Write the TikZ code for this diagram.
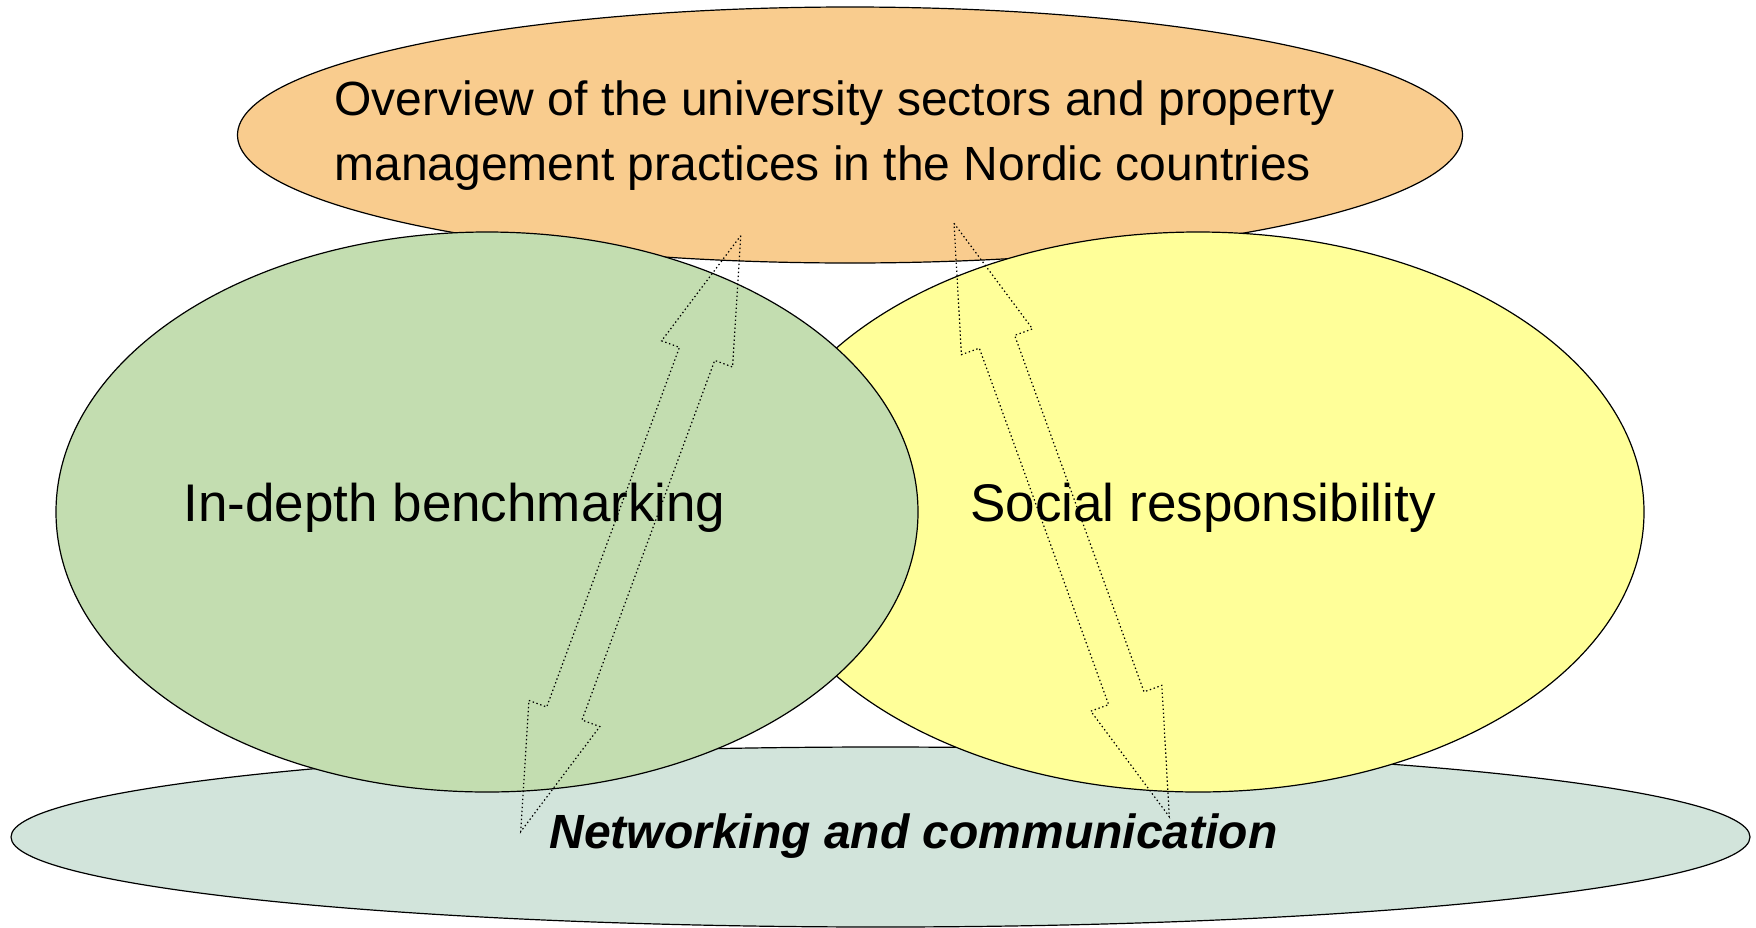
\documentclass[tikz,border=0pt]{standalone}
\usepackage{fontspec}
\setmainfont{Liberation Sans}
\usetikzlibrary{shapes.geometric}
\definecolor{orangefill}{HTML}{F9CC8E}
\definecolor{greenfill}{HTML}{C3DDB0}
\definecolor{yellowfill}{HTML}{FFFF99}
\definecolor{tealfill}{HTML}{D2E4DB}
\tikzset{
  blob/.style={ellipse, draw=black, line width=0.6pt, inner sep=0pt},
  dotarrow/.style={draw=black, line width=0.6pt, dash pattern=on 0.7pt off 1.3pt, line join=miter},
  bigtext/.style={inner sep=0pt, font=\fontsize{26.5}{32}\selectfont},
  toptext/.style={inner sep=0pt, font=\fontsize{24}{29}\selectfont},
  bottext/.style={inner sep=0pt, font=\fontsize{24}{29}\selectfont\bfseries\itshape}
}
\begin{document}
\begin{tikzpicture}[x=0.5pt, y=-0.5pt]
\useasboundingbox (0,0) rectangle (1756,927);
\node[blob, fill=orangefill, minimum width=612.5pt, minimum height=128pt] (overview) at (850,135) {};
\node[blob, fill=tealfill, minimum width=869.5pt, minimum height=90pt] (network) at (880.5,837) {};
\node[blob, fill=yellowfill, minimum width=446pt, minimum height=280pt] (social) at (1198,512) {};
\node[blob, fill=greenfill, minimum width=431pt, minimum height=280pt] (bench) at (487,512) {};
% texts
\node[toptext, anchor=base west] (ovt1) at (334,115) {Overview of the university sectors and property};
\node[toptext, anchor=base west] (ovt2) at (334,180) {management practices in the Nordic countries};
\node[bigtext, anchor=base west] (bt) at (183,521) {In-depth benchmarking};
\node[bigtext, anchor=base west] (st) at (970,521) {Social responsibility};
\node[bottext, anchor=base west] (nt) at (549,848) {Networking and communication};
% double block arrows
\coordinate (la) at (740.7,235.7);
\coordinate (lb) at (520.7,831.7);
\coordinate (ra) at (954,223.3);
\coordinate (rb) at (1169.3,816.7);
\draw[dotarrow] (la) -- (732.53,366.99) -- (714.71,360.41) -- (581.97,720.01) -- (599.79,726.59) -- (lb)
  -- (528.87,700.41) -- (546.69,706.99) -- (679.43,347.39) -- (661.61,340.81) -- cycle;
\draw[dotarrow] (ra) -- (1032.5,328.86) -- (1014.64,335.34) -- (1144.0,691.84) -- (1161.86,685.36) -- (rb)
  -- (1090.80,711.14) -- (1108.66,704.66) -- (979.30,348.16) -- (961.44,354.64) -- cycle;
\end{tikzpicture}
\end{document}
